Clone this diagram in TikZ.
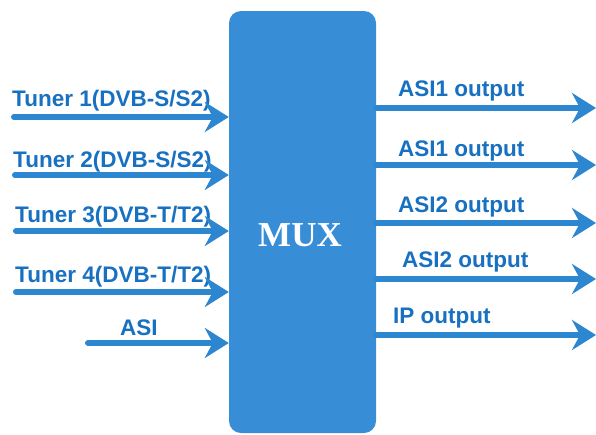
\documentclass[tikz,border=0pt]{standalone}
\usepackage{fontspec}
\setmainfont{Liberation Sans}
\newfontfamily\muxfont{Liberation Serif}
\usetikzlibrary{arrows.meta}
\definecolor{muxblue}{RGB}{56,142,214}
\definecolor{labelblue}{RGB}{24,112,192}
\definecolor{arrowblue}{RGB}{44,134,208}
\tikzset{
	sig/.style={line width=6pt, line cap=round, arrowblue, -{Stealth[length=24pt,width=30pt,inset=8pt]}},
	lbl/.style={labelblue, font=\fontsize{22.5}{26}\selectfont\bfseries, inner sep=0pt, anchor=base west},
}
\begin{document}
\begin{tikzpicture}[x=1pt,y=-1pt]
			\useasboundingbox (0,0) rectangle (596,434);
			\node (mux) [fill=muxblue, rounded corners=12pt, minimum width=147pt, minimum height=422pt, inner sep=0pt] at (302.5,222) {};
			\node (muxtext) [white, font=\muxfont\fontsize{35}{38}\selectfont\bfseries, anchor=base] at (300,246) {MUX};
			% inputs
			\node (l1) [lbl] at (12,106) {Tuner 1(DVB-S/S2)};
			\coordinate (in1) at (14,117);
			\draw [sig] (in1) -- (in1 -| mux.west);
			\node (l2) [lbl] at (13,167) {Tuner 2(DVB-S/S2)};
			\coordinate (in2) at (15,175);
			\draw [sig] (in2) -- (in2 -| mux.west);
			\node (l3) [lbl] at (15,222) {Tuner 3(DVB-T/T2)};
			\coordinate (in3) at (16,231);
			\draw [sig] (in3) -- (in3 -| mux.west);
			\node (l4) [lbl] at (15,282) {Tuner 4(DVB-T/T2)};
			\coordinate (in4) at (16,292);
			\draw [sig] (in4) -- (in4 -| mux.west);
			\node (l5) [lbl] at (120,335) {ASI};
			\coordinate (in5) at (88,343);
			\draw [sig] (in5) -- (in5 -| mux.west);
			% outputs
			\node (r1) [lbl] at (398,96) {ASI1 output};
			\coordinate (out1) at (596,108);
			\draw [sig] (out1 -| mux.east) -- (out1);
			\node (r2) [lbl] at (398,156) {ASI1 output};
			\coordinate (out2) at (596,165);
			\draw [sig] (out2 -| mux.east) -- (out2);
			\node (r3) [lbl] at (398,212) {ASI2 output};
			\coordinate (out3) at (596,223);
			\draw [sig] (out3 -| mux.east) -- (out3);
			\node (r4) [lbl] at (402,267) {ASI2 output};
			\coordinate (out4) at (596,279);
			\draw [sig] (out4 -| mux.east) -- (out4);
			\node (r5) [lbl] at (393,323) {IP output};
			\coordinate (out5) at (596,335);
			\draw [sig] (out5 -| mux.east) -- (out5);
\end{tikzpicture}
\end{document}
